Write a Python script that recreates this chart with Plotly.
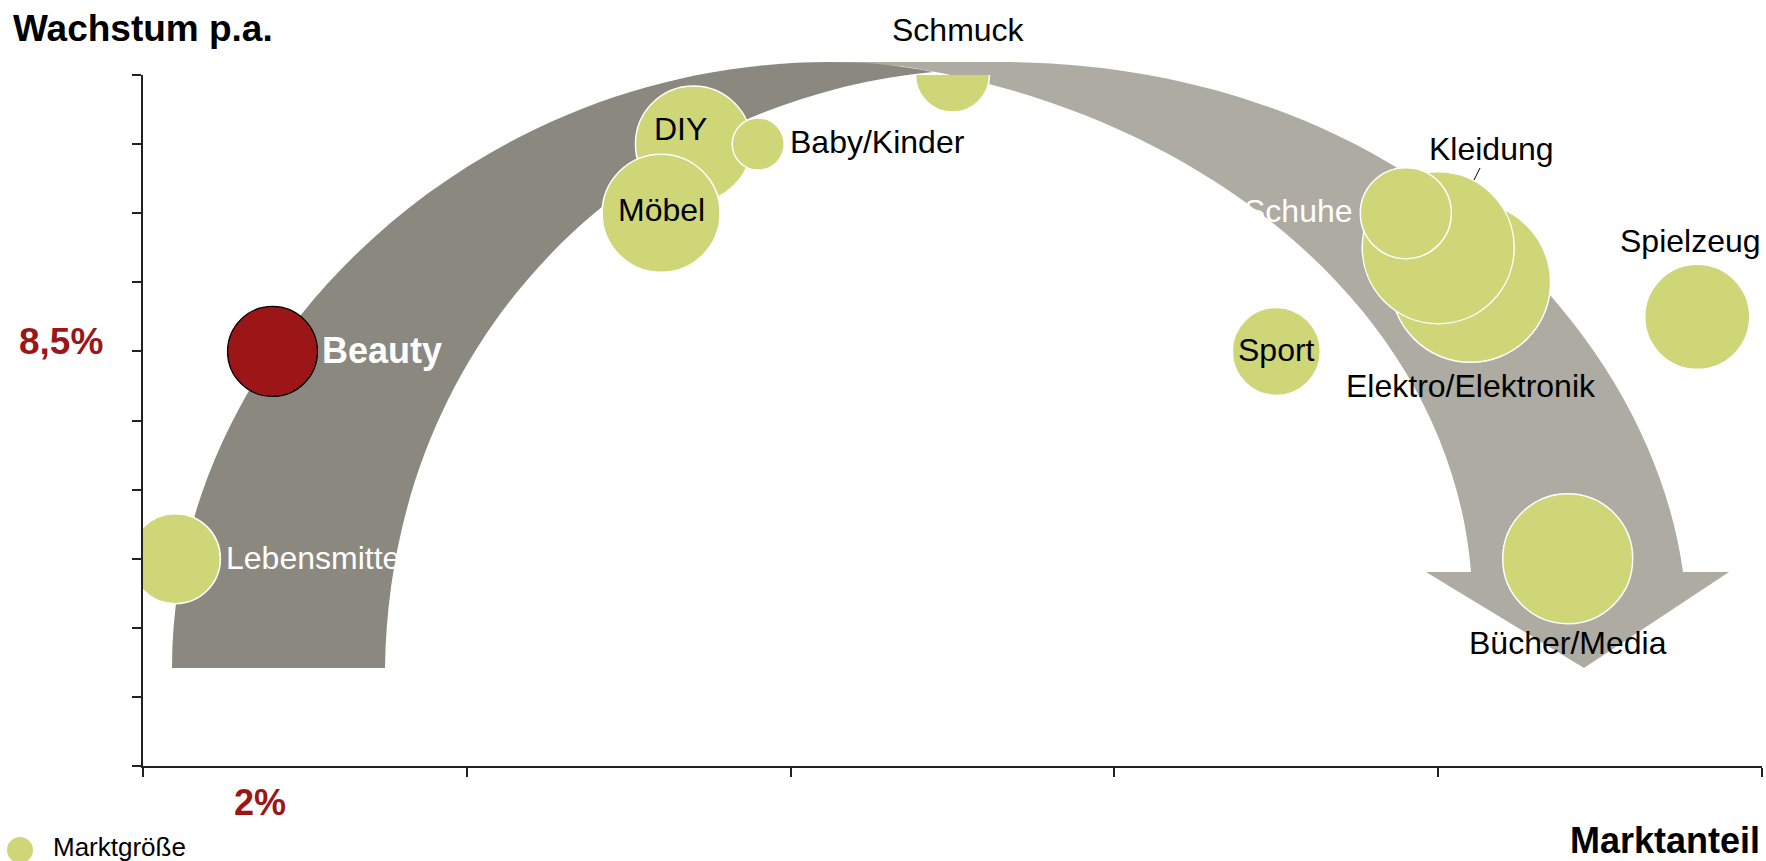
import plotly.graph_objects as go

# Daten: Marktanteil (x), Wachstum p.a. (y), Marktgröße (Blasengröße)
kategorien = ["Lebensmittel", "DIY", "Baby/Kinder", "Möbel", "Schmuck",
              "Elektro/Elektronik", "Kleidung", "Schuhe", "Sport", "Spielzeug",
              "Bücher/Media"]
marktanteil = [0.1, 1.7, 1.9, 1.6, 2.5, 4.1, 4.0, 3.9, 3.5, 4.8, 4.4]
wachstum = [3.0, 9.0, 9.0, 8.0, 10.0, 7.0, 7.5, 8.0, 6.0, 6.5, 3.0]
marktgroesse = [9.0, 11.6, 5.2, 11.8, 7.4, 16.0, 15.2, 9.1, 8.8, 10.5, 13.0]

beauty_name = "Beauty"
beauty_marktanteil = [0.4]
beauty_wachstum = [6.0]
beauty_marktgroesse = [9.0]
beauty_wachstum_text = "8,5%"
beauty_anteil_text = "2%"

GRUEN = "#CED678"
ROT = "#9C1618"
DUNKEL = "#8B8880"
HELL = "#ADABA2"
FONT = "Liberation Sans, Arial, sans-serif"

# Plotbereich in Pixeln (für Dekoration: Bogenpfeil, Legende)
L, T, W, H = 143, 75, 1619, 691


def pp(x, y):
    return "%.5f,%.5f" % ((x - L) / W, (T + H - y) / H)


def pfad(cmds):
    out = []
    for c, pts in cmds:
        out.append(c + " " + " ".join(pp(*p) for p in pts))
    return " ".join(out) + " Z"


pfad_hell = pfad([
    ("M", [(830, 62)]), ("L", [(1000, 62)]),
    ("C", [(1400, 62), (1650, 330), (1683, 572)]),
    ("L", [(1729, 572)]), ("L", [(1584, 668)]), ("L", [(1426, 572)]),
    ("L", [(1471, 572)]),
    ("C", [(1450, 310), (1200, 110), (900, 66)]),
])
pfad_dunkel = pfad([
    ("M", [(172, 668)]),
    ("C", [(172, 350), (467, 62), (830, 62)]),
    ("C", [(870, 62), (905, 66), (933, 72)]),
    ("C", [(640, 100), (390, 330), (385, 668)]),
])

fig = go.Figure()

fig.add_trace(go.Scatter(
    x=marktanteil, y=wachstum, mode="markers", name="Marktgröße",
    marker=dict(size=marktgroesse, sizemode="diameter", sizeref=0.1,
                color=GRUEN, line=dict(color="white", width=1.5), opacity=1),
    hovertext=kategorien, hoverinfo="text",
))
fig.add_trace(go.Scatter(
    x=beauty_marktanteil, y=beauty_wachstum, mode="markers", name=beauty_name,
    marker=dict(size=beauty_marktgroesse, sizemode="diameter", sizeref=0.1,
                color=ROT, line=dict(color="black", width=1.2), opacity=1),
    hovertext=[beauty_name], hoverinfo="text",
))

# Beschriftungen: (xanchor, xshift, yshift, farbe)
label_pos = {
    "Lebensmittel": ("left", 49, 1, "white"),
    "DIY": ("center", -13, 15, "black"),
    "Baby/Kinder": ("left", 30, 2, "black"),
    "Möbel": ("center", 0, 3, "black"),
    "Schmuck": ("center", 6, 45, "black"),
    "Elektro/Elektronik": ("center", 0, -104, "black"),
    "Kleidung": ("center", 53, 99, "black"),
    "Schuhe": ("right", -51, 2, "white"),
    "Sport": ("center", 0, 1, "black"),
    "Spielzeug": ("center", -7, 76, "black"),
    "Bücher/Media": ("center", 0, -84, "black"),
}

annotations = []
for name, x, y in zip(kategorien, marktanteil, wachstum):
    xa, xs, ys, col = label_pos[name]
    annotations.append(dict(
        x=x, y=y, xref="x", yref="y", text=name, showarrow=False,
        xanchor=xa, yanchor="middle", xshift=xs, yshift=ys,
        font=dict(family=FONT, size=32, color=col)))

annotations += [
    dict(x=beauty_marktanteil[0], y=beauty_wachstum[0], xref="x", yref="y",
         text="<b>%s</b>" % beauty_name, showarrow=False, xanchor="left",
         yanchor="middle", yshift=1, xshift=47,
         font=dict(family=FONT, size=36, color="white")),
    dict(x=(61 - L) / W, y=beauty_wachstum[0], xref="paper", yref="y",
         text="<b>%s</b>" % beauty_wachstum_text, showarrow=False,
         xanchor="center", yanchor="middle", yshift=10,
         font=dict(family=FONT, size=37, color=ROT)),
    dict(x=beauty_marktanteil[0], y=(T + H - 802) / H, xref="x", yref="paper",
         text="<b>%s</b>" % beauty_anteil_text, showarrow=False,
         xanchor="center", yanchor="middle", xshift=-13,
         font=dict(family=FONT, size=36, color=ROT)),
    dict(x=(11 - L) / W, y=(T + H - 29) / H, xref="paper", yref="paper",
         text="<b>Wachstum p.a.</b>", showarrow=False, xanchor="left",
         yanchor="middle", font=dict(family=FONT, size=37, color="black")),
    dict(x=1.0, y=(T + H - 840) / H, xref="paper", yref="paper",
         text="<b>Marktanteil</b>", showarrow=False, xanchor="right",
         yanchor="middle", font=dict(family=FONT, size=36, color="black")),
    dict(x=(51 - L) / W, y=(T + H - 847) / H, xref="paper", yref="paper",
         text="Marktgröße", showarrow=False, xanchor="left",
         yanchor="middle", font=dict(family=FONT, size=26, color="black")),
]

shapes = [
    dict(type="path", path=pfad_hell, xref="paper", yref="paper",
         fillcolor=HELL, line=dict(width=0), layer="below"),
    dict(type="path", path=pfad_dunkel, xref="paper", yref="paper",
         fillcolor=DUNKEL, line=dict(width=0), layer="below"),
    # Führungslinie Kleidung
    dict(type="line", xref="paper", yref="paper",
         x0=(1480 - L) / W, y0=(T + H - 168) / H,
         x1=(1474 - L) / W, y1=(T + H - 180) / H,
         line=dict(color="black", width=1)),
    # Legendensymbol
    dict(type="circle", xref="paper", yref="paper",
         x0=(7 - L) / W, x1=(33 - L) / W,
         y0=(T + H - 863) / H, y1=(T + H - 837) / H,
         fillcolor=GRUEN, line=dict(width=0)),
]

fig.update_layout(
    width=1766, height=861,
    margin=dict(l=L, r=1766 - L - W, t=T, b=861 - T - H),
    paper_bgcolor="white", plot_bgcolor="rgba(0,0,0,0)",
    showlegend=False,
    xaxis=dict(range=[0, 5], dtick=1, tick0=0, showticklabels=False,
               ticks="outside", ticklen=9, tickcolor="#222", tickwidth=1.5,
               showline=True, linecolor="#222", linewidth=2,
               showgrid=False, zeroline=False, fixedrange=True),
    yaxis=dict(range=[0, 10], dtick=1, tick0=0, showticklabels=False,
               ticks="outside", ticklen=9, tickcolor="#222", tickwidth=1.5,
               showline=True, linecolor="#222", linewidth=2,
               showgrid=False, zeroline=False, fixedrange=True),
    annotations=annotations,
    shapes=shapes,
    font=dict(family=FONT),
)

fig.write_html(
    "out.html",
    config={"displayModeBar": False},
    post_script="document.body.style.margin='0';document.body.style.overflow='hidden';",
)
